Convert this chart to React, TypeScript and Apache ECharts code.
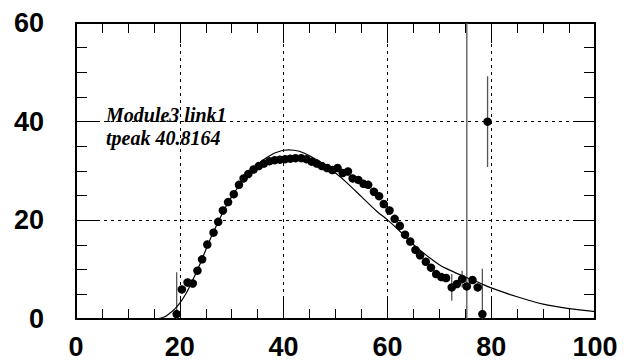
import React, { useEffect, useRef } from "react";
import * as echarts from "echarts";

// measured points
const pointX = [19.4, 20.4, 21.5, 22.5, 23.4, 24.3, 25.3, 26.5, 27.4, 28.3, 29.3, 30.4, 31.4, 32.3, 33.2, 34.2, 35.2, 36.2, 37.3, 38.3, 39.3, 40.3, 41.3, 42.3, 43.4, 44.4, 45.4, 46.4, 47.4, 48.4, 49.4, 50.4, 51.4, 52.4, 53.3, 54.4, 55.4, 56.3, 57.4, 58.4, 59.3, 60.4, 61.4, 62.4, 63.4, 64.4, 65.4, 66.3, 67.4, 68.4, 69.4, 70.4, 71.3, 72.4, 73.4, 74.4, 75.3, 76.4, 77.4, 78.3, 79.3];
const pointY = [1.0, 6.0, 7.4, 7.2, 9.8, 12.1, 15.1, 17.5, 19.7, 22.0, 23.7, 25.3, 27.2, 28.5, 29.4, 30.3, 31.0, 31.5, 32.0, 32.2, 32.3, 32.4, 32.5, 32.6, 32.6, 32.4, 31.9, 31.5, 31.0, 30.6, 30.2, 30.6, 29.6, 29.9, 28.5, 28.2, 27.4, 27.2, 25.8, 24.9, 23.3, 22.0, 20.3, 18.9, 17.1, 15.7, 14.0, 12.9, 11.6, 10.4, 9.1, 8.5, 8.3, 6.4, 7.1, 8.1, 6.6, 7.9, 6.4, 1.0, 40.0];
const pointErr = [8.5, 0.8, 0.8, 0.8, 0.8, 0.8, 0.8, 0.8, 0.8, 0.8, 0.8, 0.8, 0.8, 0.8, 0.8, 0.8, 0.8, 0.8, 0.8, 0.8, 0.8, 0.8, 0.8, 0.8, 0.8, 0.8, 0.8, 0.8, 0.8, 0.8, 0.8, 0.8, 0.8, 0.8, 0.8, 0.8, 0.8, 0.8, 0.8, 0.8, 0.8, 0.8, 0.8, 0.8, 0.8, 0.8, 0.8, 0.8, 0.8, 0.8, 0.8, 0.8, 0.8, 2.7, 0.8, 1.7, 100, 0.8, 0.8, 9.2, 9.2];

// fitted pulse shape
const fitX = [15.5, 17, 18, 19, 20, 21, 22, 23, 24, 25, 26, 27, 28, 29, 30, 31, 32, 33, 34, 35, 36, 37, 38, 39, 40, 41, 42, 43, 44, 45, 46, 47, 48, 50, 52, 55, 58, 60, 62, 65, 68, 70, 72, 75, 78, 80, 85, 90, 95, 100];
const fitY = [0, 0.4, 1.1, 2.0, 3.2, 4.8, 6.8, 9.0, 11.4, 14.0, 16.5, 18.8, 21.0, 23.0, 24.8, 26.4, 27.9, 29.2, 30.3, 31.3, 32.2, 32.9, 33.5, 33.9, 34.2, 34.3, 34.2, 34.0, 33.6, 33.1, 32.5, 31.9, 31.1, 29.6, 27.8, 24.8, 21.8, 20.1, 18.2, 15.1, 12.5, 11.0, 9.9, 8.5, 7.2, 6.3, 4.5, 3.0, 2.1, 1.5];

const labelLines = ["Module3 link1", "tpeak 40.8164"];

export default function App() {
  const ref = useRef<HTMLDivElement>(null);
  useEffect(() => {
    if (!ref.current) return;
    const chart = echarts.init(ref.current, null, { renderer: "svg" });
    const axisLabelStyle = {
      fontFamily: "Liberation Sans",
      fontWeight: "bold" as const,
      fontSize: 27,
      color: "#000",
    };
    const commonX = {
      type: "value" as const,
      min: 0,
      max: 100,
      interval: 20,
      axisLine: { show: true, onZero: false, lineStyle: { color: "#000", width: 2 } },
      axisTick: { show: true, inside: true, length: 20, lineStyle: { color: "#000", width: 1 } },
      minorTick: { show: true, splitNumber: 4, length: 10, lineStyle: { color: "#000", width: 1 } },
    };
    const commonY = {
      type: "value" as const,
      min: 0,
      max: 60,
      interval: 20,
      axisLine: { show: true, onZero: false, lineStyle: { color: "#000", width: 2 } },
      axisTick: { show: true, inside: true, length: 22, lineStyle: { color: "#000", width: 1 } },
      minorTick: { show: true, splitNumber: 4, length: 11, lineStyle: { color: "#000", width: 1 } },
    };
    const pts = pointX.map((x, i) => [x, pointY[i], pointErr[i]]);
    chart.setOption({
      animation: false,
      backgroundColor: "#fff",
      grid: { left: 76, top: 23, right: 38, bottom: 45, containLabel: false },
      xAxis: [
        {
          ...commonX,
          position: "bottom",
          splitLine: { show: true, lineStyle: { color: "#000", width: 1, type: [3, 4] } },
          axisLabel: { ...axisLabelStyle, margin: 14, showMaxLabel: true, showMinLabel: true },
        },
        {
          ...commonX,
          position: "top",
          splitLine: { show: false },
          axisLabel: { show: false },
        },
      ],
      yAxis: [
        {
          ...commonY,
          position: "left",
          splitLine: { show: true, lineStyle: { color: "#000", width: 1, type: [3, 4] } },
          axisLabel: { ...axisLabelStyle, margin: 32 },
        },
        {
          ...commonY,
          position: "right",
          splitLine: { show: false },
          axisLabel: { show: false },
        },
      ],
      series: [
        {
          type: "custom",
          xAxisIndex: 0,
          yAxisIndex: 0,
          clip: true,
          data: pts,
          encode: { x: 0, y: 1 },
          renderItem: (params: any, api: any) => {
            const x = api.value(0);
            const y = api.value(1);
            const e = api.value(2);
            const p1 = api.coord([x, y - e]);
            const p2 = api.coord([x, y + e]);
            return {
              type: "line",
              shape: { x1: p1[0], y1: p1[1], x2: p2[0], y2: p2[1] },
              style: { stroke: "#555", lineWidth: 1.3 },
            };
          },
          z: 2,
        },
        {
          type: "scatter",
          xAxisIndex: 0,
          yAxisIndex: 0,
          data: pts.map((p) => [p[0], p[1]]),
          symbol: "circle",
          symbolSize: 8.5,
          itemStyle: { color: "#000", opacity: 1 },
          z: 3,
        },
        {
          type: "line",
          xAxisIndex: 0,
          yAxisIndex: 0,
          data: fitX.map((x, i) => [x, fitY[i]]),
          showSymbol: false,
          smooth: 0.3,
          lineStyle: { color: "#000", width: 1.2 },
          z: 4,
        },
      ],
      graphic: [
        {
          type: "text",
          left: 106,
          top: 103,
          style: {
            text: labelLines.join("\n"),
            font: "italic bold 20px 'Liberation Serif'",
            lineHeight: 23,
            fill: "#000",
          },
          z: 10,
        },
      ],
    });
    return () => chart.dispose();
  }, []);
  return (
    <div
      ref={ref}
      style={{ position: "fixed", left: 0, top: 0, width: 633, height: 364, background: "#fff" }}
    />
  );
}
